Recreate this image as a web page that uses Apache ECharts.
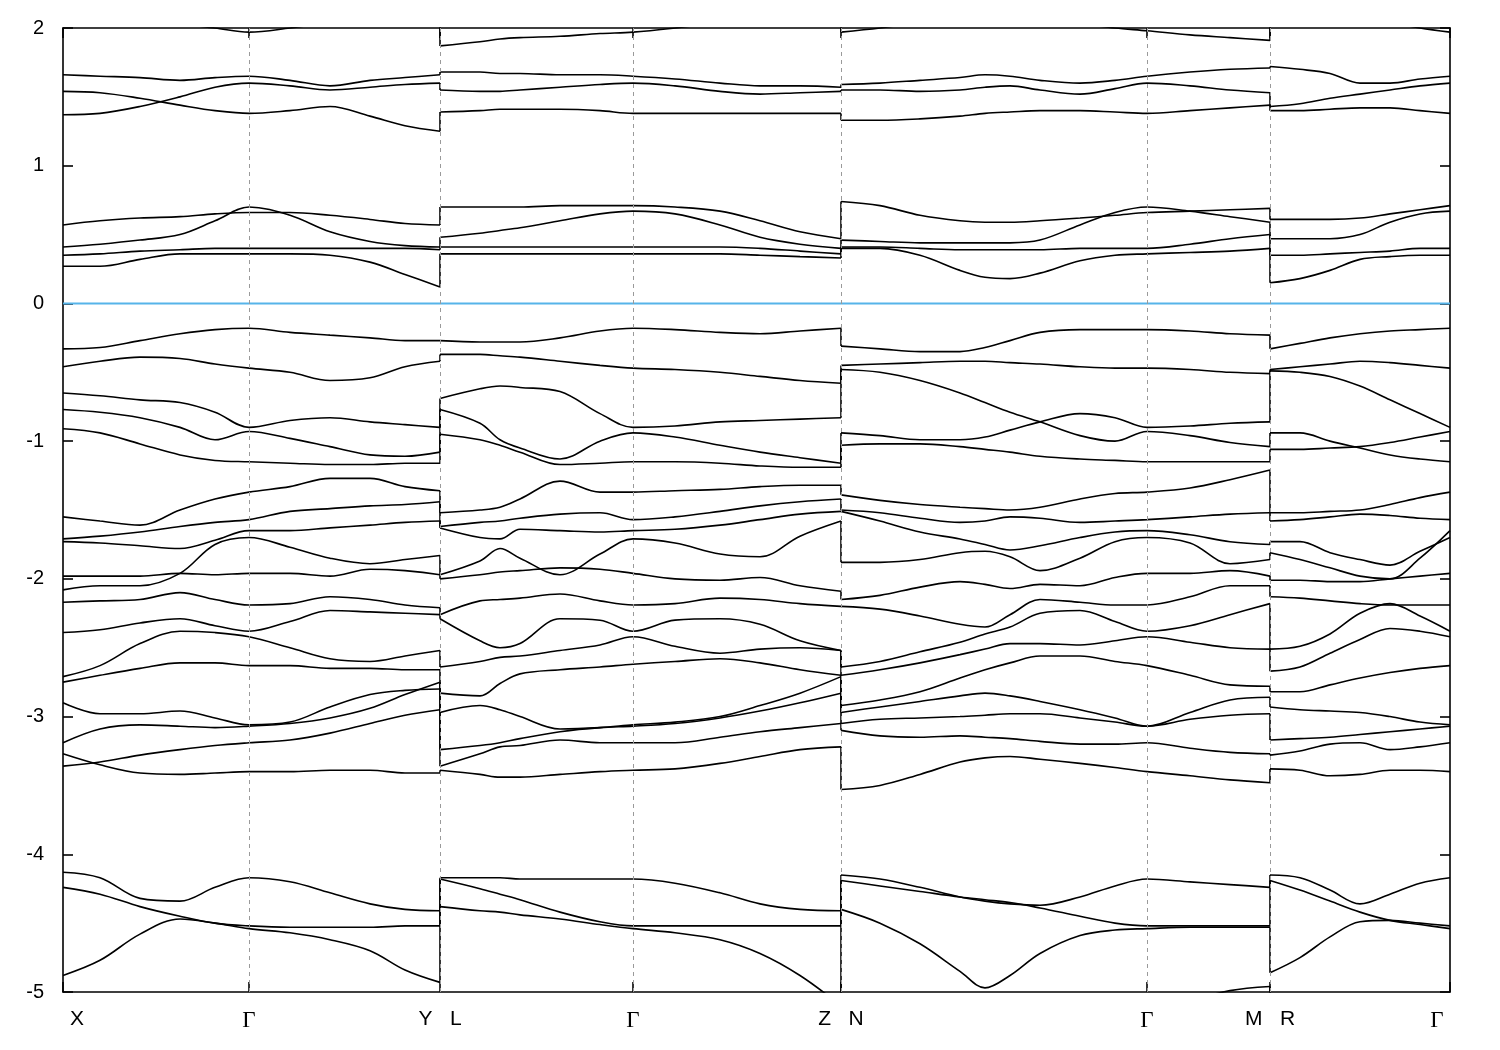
<!DOCTYPE html>
<html><head><meta charset="utf-8">
<script src="https://cdn.jsdelivr.net/npm/echarts@6/dist/echarts.min.js"></script>
<style>html,body{margin:0;padding:0;background:#fff}#c{width:1500px;height:1050px}</style>
</head><body><div id="c"></div>
<script>
// k-path tick positions and labels
const kTicks = [0, 186, 377, 570, 778, 1084, 1207, 1387];
const kLabels = ['X', 'Γ', 'Y   L', 'Γ', 'Z   N', 'Γ', 'M   R', 'Γ'];

// sample k positions for each path segment
const seg1K = [0, 37, 77, 117, 152, 186, 227, 267, 307, 342, 377];
const seg2K = [377, 417, 437, 457, 497, 537, 570, 612, 657, 697, 737, 778];
const seg3K = [778, 817, 857, 897, 922, 947, 977, 1017, 1052, 1084, 1127, 1167, 1207];
const seg4K = [1207, 1237, 1267, 1297, 1327, 1357, 1387];

// energies (eV) of each band along segment X - Γ - Y
const seg1Bands = [
  [2.12, 2.10, 2.07, 2.03, 2.00, 1.97, 2.00, 2.04, 2.07, 2.09, 2.10],
  [1.66, 1.65, 1.64, 1.62, 1.64, 1.65, 1.62, 1.58, 1.62, 1.64, 1.66],
  [1.37, 1.38, 1.43, 1.50, 1.57, 1.60, 1.58, 1.55, 1.57, 1.59, 1.60],
  [1.54, 1.53, 1.49, 1.44, 1.40, 1.38, 1.40, 1.43, 1.36, 1.29, 1.25],
  [0.57, 0.60, 0.62, 0.63, 0.65, 0.66, 0.66, 0.64, 0.61, 0.58, 0.57],
  [0.41, 0.43, 0.46, 0.50, 0.60, 0.70, 0.64, 0.52, 0.45, 0.42, 0.41],
  [0.35, 0.36, 0.38, 0.39, 0.40, 0.40, 0.40, 0.40, 0.40, 0.40, 0.39],
  [0.27, 0.27, 0.32, 0.36, 0.36, 0.36, 0.36, 0.35, 0.30, 0.21, 0.12],
  [-0.33, -0.32, -0.27, -0.22, -0.19, -0.18, -0.21, -0.23, -0.25, -0.27, -0.27],
  [-0.46, -0.42, -0.39, -0.40, -0.44, -0.47, -0.50, -0.56, -0.54, -0.46, -0.42],
  [-0.65, -0.67, -0.70, -0.72, -0.79, -0.90, -0.85, -0.83, -0.86, -0.88, -0.90],
  [-0.77, -0.79, -0.83, -0.90, -0.99, -0.93, -0.98, -1.04, -1.10, -1.11, -1.08],
  [-0.91, -0.94, -1.02, -1.10, -1.14, -1.15, -1.16, -1.17, -1.17, -1.16, -1.16],
  [-1.55, -1.58, -1.61, -1.50, -1.42, -1.37, -1.33, -1.27, -1.27, -1.33, -1.36],
  [-1.71, -1.69, -1.66, -1.62, -1.59, -1.57, -1.51, -1.49, -1.47, -1.46, -1.44],
  [-1.73, -1.74, -1.76, -1.78, -1.72, -1.65, -1.65, -1.63, -1.61, -1.59, -1.58],
  [-2.08, -2.05, -2.05, -1.96, -1.75, -1.70, -1.77, -1.85, -1.89, -1.86, -1.83],
  [-1.98, -1.98, -1.98, -1.96, -1.97, -1.96, -1.96, -1.98, -1.93, -1.94, -1.97],
  [-2.17, -2.16, -2.15, -2.10, -2.15, -2.19, -2.18, -2.13, -2.15, -2.19, -2.21],
  [-2.39, -2.37, -2.32, -2.29, -2.34, -2.38, -2.31, -2.23, -2.24, -2.25, -2.26],
  [-2.71, -2.63, -2.47, -2.38, -2.39, -2.42, -2.50, -2.58, -2.60, -2.56, -2.52],
  [-2.75, -2.70, -2.65, -2.61, -2.61, -2.63, -2.63, -2.65, -2.65, -2.66, -2.66],
  [-2.90, -2.98, -2.98, -2.96, -3.01, -3.06, -3.04, -2.93, -2.84, -2.81, -2.80],
  [-3.19, -3.09, -3.06, -3.07, -3.08, -3.07, -3.05, -3.01, -2.94, -2.84, -2.75],
  [-3.27, -3.35, -3.41, -3.42, -3.41, -3.40, -3.40, -3.39, -3.39, -3.41, -3.41],
  [-3.36, -3.33, -3.28, -3.24, -3.21, -3.19, -3.17, -3.12, -3.05, -2.99, -2.95],
  [-4.13, -4.17, -4.32, -4.34, -4.24, -4.17, -4.20, -4.28, -4.36, -4.40, -4.41],
  [-4.24, -4.29, -4.38, -4.45, -4.50, -4.52, -4.53, -4.53, -4.53, -4.52, -4.52],
  [-4.88, -4.77, -4.58, -4.47, -4.50, -4.54, -4.57, -4.62, -4.70, -4.84, -4.93],
  [-5.50, -5.50, -5.50, -5.50, -5.50, -5.50, -5.50, -5.50, -5.50, -5.50, -5.50]
];

// segment L - Γ - Z
const seg2Bands = [
  [1.87, 1.90, 1.92, 1.93, 1.94, 1.96, 1.97, 2.00, 2.04, 2.07, 2.09, 2.10],
  [1.68, 1.68, 1.67, 1.67, 1.66, 1.66, 1.65, 1.63, 1.60, 1.58, 1.58, 1.57],
  [1.55, 1.54, 1.54, 1.55, 1.57, 1.59, 1.60, 1.58, 1.54, 1.52, 1.53, 1.54],
  [1.39, 1.40, 1.41, 1.41, 1.41, 1.40, 1.38, 1.38, 1.38, 1.38, 1.38, 1.38],
  [0.70, 0.70, 0.70, 0.70, 0.71, 0.71, 0.71, 0.70, 0.67, 0.60, 0.52, 0.47],
  [0.48, 0.51, 0.53, 0.55, 0.60, 0.65, 0.67, 0.65, 0.57, 0.48, 0.43, 0.40],
  [0.41, 0.41, 0.41, 0.41, 0.41, 0.41, 0.41, 0.41, 0.41, 0.40, 0.38, 0.36],
  [0.36, 0.36, 0.36, 0.36, 0.36, 0.36, 0.36, 0.36, 0.36, 0.35, 0.34, 0.33],
  [-0.27, -0.28, -0.28, -0.28, -0.25, -0.20, -0.18, -0.19, -0.21, -0.22, -0.20, -0.18],
  [-0.37, -0.37, -0.38, -0.39, -0.42, -0.45, -0.47, -0.48, -0.50, -0.53, -0.56, -0.58],
  [-0.69, -0.62, -0.60, -0.61, -0.64, -0.80, -0.90, -0.89, -0.86, -0.85, -0.84, -0.83],
  [-0.77, -0.87, -0.99, -1.05, -1.13, -1.00, -0.94, -0.97, -1.03, -1.08, -1.12, -1.16],
  [-0.95, -0.99, -1.03, -1.08, -1.17, -1.16, -1.15, -1.15, -1.16, -1.18, -1.19, -1.19],
  [-1.52, -1.50, -1.48, -1.42, -1.29, -1.37, -1.37, -1.36, -1.35, -1.33, -1.32, -1.32],
  [-1.62, -1.59, -1.58, -1.56, -1.53, -1.52, -1.57, -1.55, -1.51, -1.47, -1.44, -1.42],
  [-1.63, -1.70, -1.71, -1.64, -1.65, -1.66, -1.65, -1.64, -1.61, -1.57, -1.53, -1.51],
  [-1.97, -1.87, -1.78, -1.85, -1.97, -1.82, -1.71, -1.74, -1.82, -1.84, -1.69, -1.58],
  [-2.00, -1.97, -1.95, -1.94, -1.92, -1.93, -1.96, -2.00, -2.01, -1.99, -2.05, -2.09],
  [-2.26, -2.16, -2.15, -2.14, -2.11, -2.16, -2.19, -2.18, -2.14, -2.15, -2.18, -2.20],
  [-2.29, -2.45, -2.50, -2.47, -2.29, -2.30, -2.38, -2.30, -2.29, -2.33, -2.45, -2.52],
  [-2.64, -2.60, -2.57, -2.56, -2.52, -2.48, -2.42, -2.49, -2.54, -2.51, -2.50, -2.52],
  [-2.83, -2.85, -2.76, -2.69, -2.66, -2.64, -2.62, -2.60, -2.58, -2.61, -2.66, -2.70],
  [-2.97, -2.92, -2.95, -3.00, -3.09, -3.08, -3.06, -3.04, -3.00, -2.92, -2.83, -2.71],
  [-3.24, -3.21, -3.19, -3.16, -3.11, -3.08, -3.07, -3.05, -3.01, -2.96, -2.90, -2.83],
  [-3.36, -3.27, -3.22, -3.21, -3.17, -3.19, -3.19, -3.19, -3.15, -3.11, -3.08, -3.05],
  [-3.39, -3.42, -3.44, -3.44, -3.42, -3.40, -3.39, -3.38, -3.34, -3.29, -3.24, -3.22],
  [-4.17, -4.17, -4.17, -4.18, -4.18, -4.18, -4.18, -4.21, -4.28, -4.36, -4.40, -4.41],
  [-4.18, -4.25, -4.29, -4.33, -4.42, -4.49, -4.52, -4.52, -4.52, -4.52, -4.52, -4.52],
  [-4.38, -4.41, -4.42, -4.44, -4.47, -4.51, -4.54, -4.57, -4.62, -4.72, -4.88, -5.10],
  [-5.50, -5.50, -5.50, -5.50, -5.50, -5.50, -5.50, -5.50, -5.50, -5.50, -5.50, -5.50]
];

// segment N - Γ - M
const seg3Bands = [
  [1.97, 2.00, 2.04, 2.06, 2.07, 2.07, 2.06, 2.03, 2.00, 1.98, 1.95, 1.93, 1.91],
  [1.59, 1.60, 1.62, 1.64, 1.66, 1.65, 1.62, 1.60, 1.62, 1.65, 1.68, 1.70, 1.71],
  [1.55, 1.55, 1.54, 1.55, 1.57, 1.58, 1.55, 1.52, 1.56, 1.60, 1.58, 1.55, 1.53],
  [1.33, 1.33, 1.34, 1.36, 1.38, 1.39, 1.40, 1.40, 1.39, 1.38, 1.40, 1.42, 1.44],
  [0.74, 0.71, 0.64, 0.60, 0.59, 0.59, 0.60, 0.62, 0.64, 0.66, 0.67, 0.68, 0.69],
  [0.46, 0.45, 0.44, 0.44, 0.44, 0.44, 0.46, 0.57, 0.66, 0.70, 0.67, 0.63, 0.59],
  [0.41, 0.41, 0.40, 0.39, 0.39, 0.39, 0.39, 0.40, 0.40, 0.40, 0.43, 0.47, 0.50],
  [0.40, 0.40, 0.35, 0.24, 0.19, 0.18, 0.22, 0.31, 0.35, 0.36, 0.37, 0.38, 0.40],
  [-0.31, -0.33, -0.35, -0.35, -0.32, -0.27, -0.21, -0.19, -0.19, -0.19, -0.20, -0.22, -0.23],
  [-0.45, -0.44, -0.43, -0.42, -0.42, -0.43, -0.44, -0.46, -0.47, -0.47, -0.48, -0.50, -0.51],
  [-0.48, -0.50, -0.56, -0.65, -0.72, -0.79, -0.86, -0.96, -1.00, -0.93, -0.96, -1.01, -1.04],
  [-0.94, -0.96, -0.99, -0.99, -0.97, -0.92, -0.86, -0.80, -0.83, -0.90, -0.89, -0.87, -0.86],
  [-1.03, -1.02, -1.02, -1.04, -1.06, -1.08, -1.11, -1.13, -1.14, -1.15, -1.15, -1.15, -1.15],
  [-1.39, -1.43, -1.46, -1.48, -1.49, -1.50, -1.48, -1.42, -1.38, -1.37, -1.34, -1.28, -1.21],
  [-1.50, -1.52, -1.56, -1.59, -1.58, -1.55, -1.56, -1.59, -1.58, -1.57, -1.55, -1.53, -1.52],
  [-1.51, -1.58, -1.66, -1.71, -1.75, -1.79, -1.76, -1.70, -1.66, -1.65, -1.68, -1.73, -1.75],
  [-1.88, -1.88, -1.86, -1.81, -1.80, -1.84, -1.94, -1.85, -1.73, -1.70, -1.74, -1.89, -1.86],
  [-2.15, -2.12, -2.06, -2.02, -2.04, -2.07, -2.04, -2.05, -1.99, -1.96, -1.96, -1.94, -1.98],
  [-2.20, -2.22, -2.27, -2.33, -2.35, -2.26, -2.15, -2.17, -2.19, -2.19, -2.13, -2.05, -2.05],
  [-2.64, -2.60, -2.53, -2.46, -2.40, -2.35, -2.25, -2.23, -2.31, -2.38, -2.34, -2.26, -2.18],
  [-2.70, -2.66, -2.61, -2.55, -2.51, -2.47, -2.47, -2.48, -2.45, -2.42, -2.46, -2.50, -2.51],
  [-2.92, -2.88, -2.82, -2.72, -2.66, -2.61, -2.56, -2.56, -2.60, -2.63, -2.70, -2.77, -2.78],
  [-2.97, -2.93, -2.89, -2.85, -2.83, -2.85, -2.89, -2.95, -3.01, -3.07, -2.97, -2.88, -2.86],
  [-3.05, -3.02, -3.01, -3.00, -2.99, -2.98, -2.98, -3.01, -3.04, -3.07, -3.02, -2.99, -2.98],
  [-3.10, -3.14, -3.15, -3.14, -3.15, -3.16, -3.18, -3.20, -3.20, -3.19, -3.23, -3.26, -3.27],
  [-3.53, -3.50, -3.42, -3.33, -3.30, -3.29, -3.31, -3.34, -3.37, -3.40, -3.43, -3.46, -3.48],
  [-4.15, -4.18, -4.24, -4.31, -4.34, -4.36, -4.37, -4.31, -4.23, -4.18, -4.20, -4.22, -4.24],
  [-4.19, -4.23, -4.27, -4.31, -4.33, -4.35, -4.39, -4.45, -4.50, -4.52, -4.52, -4.52, -4.52],
  [-4.40, -4.50, -4.65, -4.85, -4.97, -4.88, -4.72, -4.59, -4.55, -4.54, -4.53, -4.53, -4.53],
  [-5.60, -5.60, -5.60, -5.60, -5.60, -5.60, -5.50, -5.40, -5.30, -5.20, -5.07, -4.99, -4.96]
];

// segment R - Γ
const seg4Bands = [
  [2.15, 2.12, 2.10, 2.07, 2.04, 2.00, 1.97],
  [1.72, 1.70, 1.67, 1.60, 1.60, 1.63, 1.65],
  [1.43, 1.45, 1.49, 1.52, 1.55, 1.58, 1.60],
  [1.40, 1.40, 1.41, 1.42, 1.42, 1.40, 1.38],
  [0.61, 0.61, 0.61, 0.62, 0.65, 0.68, 0.71],
  [0.47, 0.47, 0.47, 0.50, 0.59, 0.65, 0.67],
  [0.35, 0.35, 0.36, 0.37, 0.38, 0.40, 0.40],
  [0.15, 0.18, 0.24, 0.32, 0.34, 0.35, 0.35],
  [-0.33, -0.29, -0.25, -0.22, -0.20, -0.19, -0.18],
  [-0.48, -0.46, -0.44, -0.42, -0.43, -0.45, -0.47],
  [-0.49, -0.50, -0.53, -0.60, -0.70, -0.80, -0.90],
  [-0.94, -0.94, -1.00, -1.05, -1.10, -1.13, -1.15],
  [-1.06, -1.06, -1.05, -1.04, -1.01, -0.97, -0.93],
  [-1.52, -1.52, -1.51, -1.50, -1.46, -1.41, -1.37],
  [-1.58, -1.57, -1.55, -1.53, -1.54, -1.56, -1.57],
  [-1.73, -1.73, -1.81, -1.86, -1.90, -1.80, -1.70],
  [-1.81, -1.86, -1.92, -1.98, -2.00, -1.85, -1.65],
  [-2.01, -2.01, -2.02, -2.02, -2.00, -1.98, -1.96],
  [-2.13, -2.14, -2.16, -2.18, -2.19, -2.19, -2.19],
  [-2.51, -2.49, -2.40, -2.25, -2.18, -2.27, -2.38],
  [-2.67, -2.64, -2.54, -2.44, -2.36, -2.38, -2.42],
  [-2.82, -2.82, -2.77, -2.72, -2.68, -2.65, -2.63],
  [-2.93, -2.95, -2.96, -2.97, -3.00, -3.04, -3.06],
  [-3.17, -3.16, -3.15, -3.13, -3.11, -3.09, -3.07],
  [-3.28, -3.25, -3.20, -3.19, -3.24, -3.22, -3.19],
  [-3.38, -3.39, -3.43, -3.42, -3.39, -3.39, -3.40],
  [-4.15, -4.17, -4.26, -4.36, -4.29, -4.21, -4.17],
  [-4.19, -4.26, -4.34, -4.42, -4.48, -4.51, -4.54],
  [-4.86, -4.75, -4.60, -4.49, -4.48, -4.50, -4.52],
  [-5.50, -5.50, -5.50, -5.50, -5.50, -5.50, -5.50]
];

const segments = [
  { k: seg1K, bands: seg1Bands },
  { k: seg2K, bands: seg2Bands },
  { k: seg3K, bands: seg3Bands },
  { k: seg4K, bands: seg4Bands }
];

const bandStyle = { color: '#000', width: 1.6 };
const series = [];

// Fermi level line + dashed high-symmetry guides
series.push({
  type: 'line', data: [[kTicks[0], 0], [kTicks[kTicks.length - 1], 0]],
  symbol: 'none', silent: true, z: 1,
  lineStyle: { color: '#56b4e9', width: 2 },
  markLine: {
    silent: true, symbol: ['none', 'none'], label: { show: false }, animation: false,
    lineStyle: { color: '#9a9a9a', width: 1, type: [4, 4] },
    data: kTicks.slice(1, -1).map(v => ({ xAxis: v }))
  }
});

segments.forEach(seg => {
  seg.bands.forEach(b => {
    series.push({
      type: 'line', data: seg.k.map((x, i) => [x, b[i]]),
      symbol: 'none', smooth: 0.35, silent: true, z: 3,
      lineStyle: bandStyle
    });
  });
});

// vertical connections at the path discontinuities (bands paired by energy order)
for (let s = 0; s < segments.length - 1; s++) {
  const ends = segments[s].bands.map(b => b[b.length - 1]).sort((a, b) => b - a);
  const starts = segments[s + 1].bands.map(b => b[0]).sort((a, b) => b - a);
  const x = segments[s].k[segments[s].k.length - 1];
  ends.forEach((e, i) => {
    series.push({
      type: 'line', data: [[x, e], [x, starts[i]]],
      symbol: 'none', silent: true, z: 3, lineStyle: bandStyle
    });
  });
}

const chart = echarts.init(document.getElementById('c'), null, { renderer: 'canvas' });
const axisLineStyle = { color: '#000', width: 1.6 };
chart.setOption({
  animation: false,
  backgroundColor: '#fff',
  grid: { left: 63, right: 50, top: 28, bottom: 58, containLabel: false, outerBoundsMode: 'none' },
  xAxis: [{
    type: 'value', min: kTicks[0], max: kTicks[kTicks.length - 1], position: 'bottom',
    axisLine: { show: true, onZero: false, lineStyle: axisLineStyle },
    axisTick: { show: true, inside: true, length: 10, customValues: kTicks, lineStyle: axisLineStyle },
    axisLabel: {
      show: true, customValues: kTicks, margin: 17, color: '#000',
      formatter: function (v) {
        const i = kTicks.indexOf(v);
        const t = kLabels[i];
        if (i === 0) return '{first|' + t + '}';
        if (i === kTicks.length - 1) return '{last|' + t + '}';
        if (t === 'Γ') return '{g|' + t + '}';
        return '{s|' + t + '}';
      },
      rich: {
        s: { fontFamily: 'Liberation Sans', fontSize: 21, color: '#000' },
        g: { fontFamily: 'Liberation Serif', fontSize: 23, color: '#000' },
        first: { fontFamily: 'Liberation Sans', fontSize: 21, color: '#000', padding: [0, 0, 0, 28] },
        last: { fontFamily: 'Liberation Serif', fontSize: 23, color: '#000', padding: [0, 26, 0, 0] }
      }
    },
    splitLine: { show: false }
  }, {
    type: 'value', min: kTicks[0], max: kTicks[kTicks.length - 1], position: 'top',
    axisLine: { show: true, onZero: false, lineStyle: axisLineStyle },
    axisTick: { show: true, inside: true, length: 10, customValues: kTicks, lineStyle: axisLineStyle },
    axisLabel: { show: false },
    splitLine: { show: false }
  }],
  yAxis: [{
    type: 'value', min: -5, max: 2, interval: 1, position: 'left',
    axisLine: { show: true, onZero: false, lineStyle: axisLineStyle },
    axisTick: { show: true, inside: true, length: 10, lineStyle: axisLineStyle },
    axisLabel: { show: true, margin: 19, color: '#000', fontFamily: 'Liberation Sans', fontSize: 20 },
    splitLine: { show: false }
  }, {
    type: 'value', min: -5, max: 2, interval: 1, position: 'right',
    axisLine: { show: true, onZero: false, lineStyle: axisLineStyle },
    axisTick: { show: true, inside: true, length: 10, lineStyle: axisLineStyle },
    axisLabel: { show: false },
    splitLine: { show: false }
  }],
  series: series
});
</script>
</body></html>
